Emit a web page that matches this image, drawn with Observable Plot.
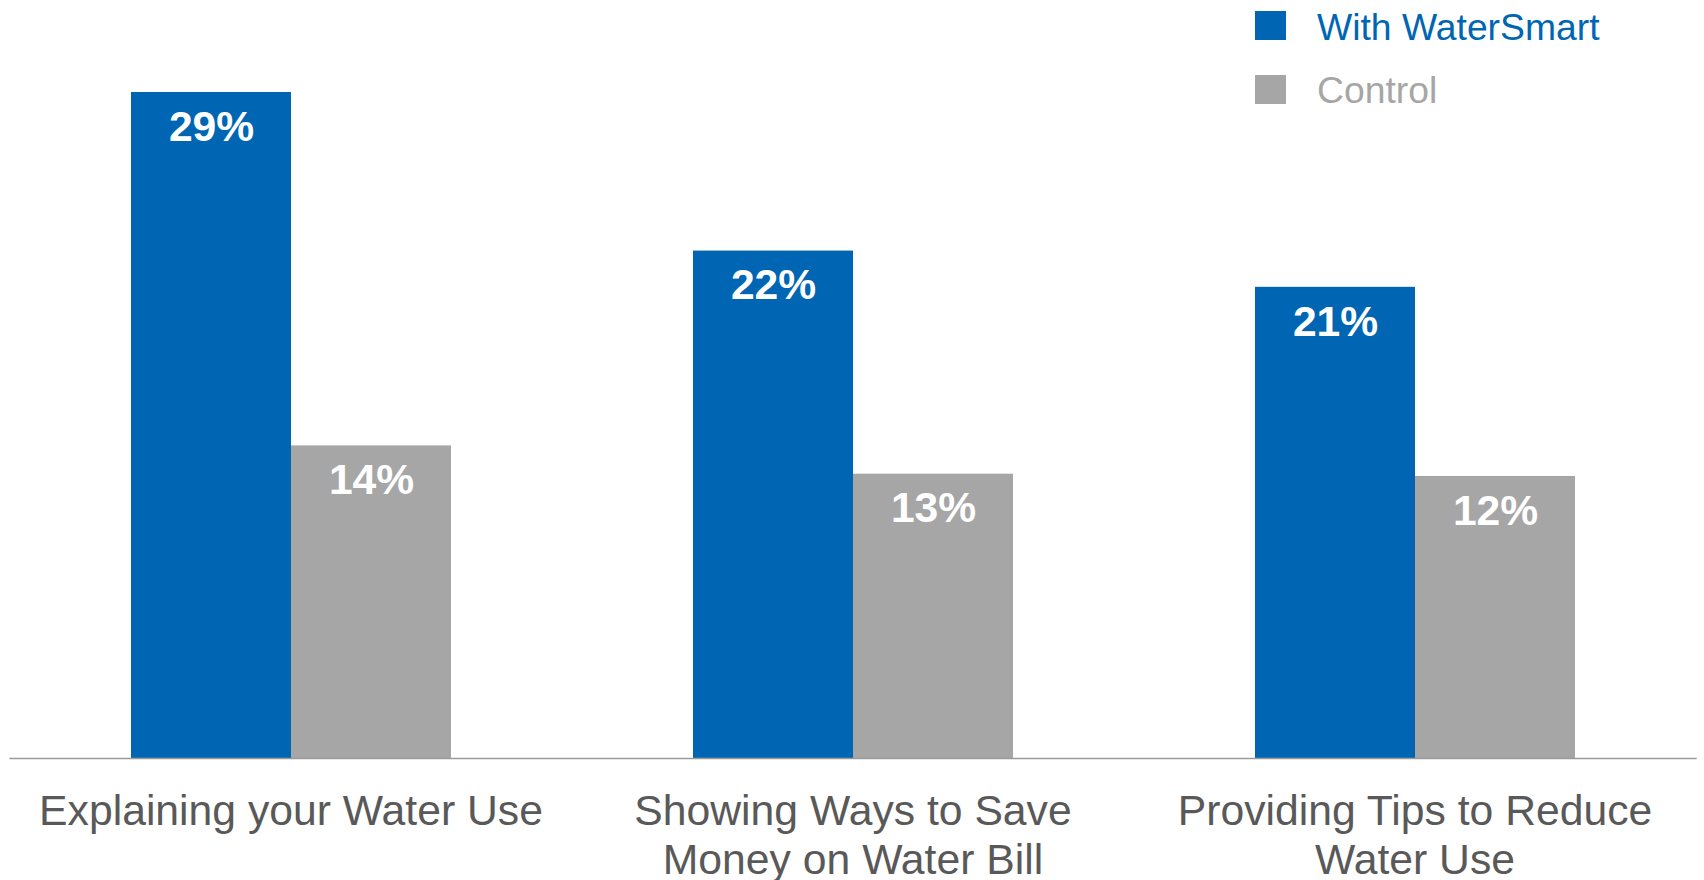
<!DOCTYPE html>
<html>
<head>
<meta charset="utf-8">
<script src="https://cdn.jsdelivr.net/npm/d3@7"></script>
<script src="https://cdn.jsdelivr.net/npm/@observablehq/plot@0.6"></script>
<style>
  html, body { margin: 0; padding: 0; background: #fff; }
  #wrap { position: relative; width: 1704px; height: 880px; font-family: "Liberation Sans", Arial, sans-serif; }
  .lg-sw { position: absolute; width: 31px; height: 29px; }
  .lg-tx { position: absolute; font-size: 37.3px; line-height: 1; white-space: nowrap; }
</style>
</head>
<body>
<div id="wrap"></div>
<script>
const categories = ["Explaining your Water Use", "Showing Ways to Save Money on Water Bill", "Providing Tips to Reduce Water Use"];
const tickLabels = ["Explaining your Water Use", "Showing Ways to Save\nMoney on Water Bill", "Providing Tips to Reduce\nWater Use"];
const series = ["With WaterSmart", "Control"];
const colors = ["#0066B3", "#A6A6A6"];
const withWaterSmart = [29.4, 22.4, 20.8];
const control = [13.8, 12.55, 12.45];

const rows = [];
categories.forEach((c, i) => {
  rows.push({category: c, series: series[0], value: withWaterSmart[i]});
  rows.push({category: c, series: series[1], value: control[i]});
});

const font = "'Liberation Sans', Arial, sans-serif";
const W = 1704, H = 880, mL = 9, mR = 7;
const fxOpts = {domain: categories, paddingInner: 0.428, paddingOuter: 0.214};

// outer gap of the facet band scale, used to stretch the baseline across the full width
const fxScale = Plot.scale({fx: {...fxOpts, range: [mL, W - mR]}});
const outer = fxScale.apply(categories[0]) - mL;

const chart = Plot.plot({
  width: W,
  height: H,
  marginTop: 92,
  marginBottom: 122,
  marginLeft: mL,
  marginRight: mR,
  style: {fontFamily: font, background: "white", overflow: "visible"},
  fx: {...fxOpts, label: null},
  x: {domain: series, padding: 0, axis: null},
  y: {domain: [0, 29.4], axis: null},
  color: {domain: series, range: colors},
  marks: [
    Plot.barY(rows, {fx: "category", x: "series", y: "value", fill: "series"}),
    Plot.text(rows, {
      fx: "category", x: "series", y: "value",
      text: d => Math.round(d.value) + "%",
      lineAnchor: "top", dy: 18, fill: "white",
      fontSize: 42.6, fontWeight: "bold"
    }),
    Plot.frame({anchor: "bottom", stroke: "#9a9a9a", strokeWidth: 1.5, facet: "super", insetLeft: -outer, insetRight: -outer}),
    Plot.axisFx({
      anchor: "bottom", tickSize: 0, tickPadding: 32,
      fontSize: 42.7, color: "#595959", lineHeight: 1.14,
      tickFormat: c => tickLabels[categories.indexOf(c)],
      label: null
    })
  ]
});

const wrap = document.getElementById("wrap");
wrap.appendChild(chart);

series.forEach((s, i) => {
  const sw = document.createElement("div");
  sw.className = "lg-sw";
  sw.style.left = "1255px";
  sw.style.top = (11 + i * 63.5) + "px";
  sw.style.background = colors[i];
  wrap.appendChild(sw);
  const tx = document.createElement("div");
  tx.className = "lg-tx";
  tx.style.left = "1317px";
  tx.style.top = (8.5 + i * 63) + "px";
  tx.style.color = colors[i];
  tx.textContent = s;
  wrap.appendChild(tx);
});
</script>
</body>
</html>
